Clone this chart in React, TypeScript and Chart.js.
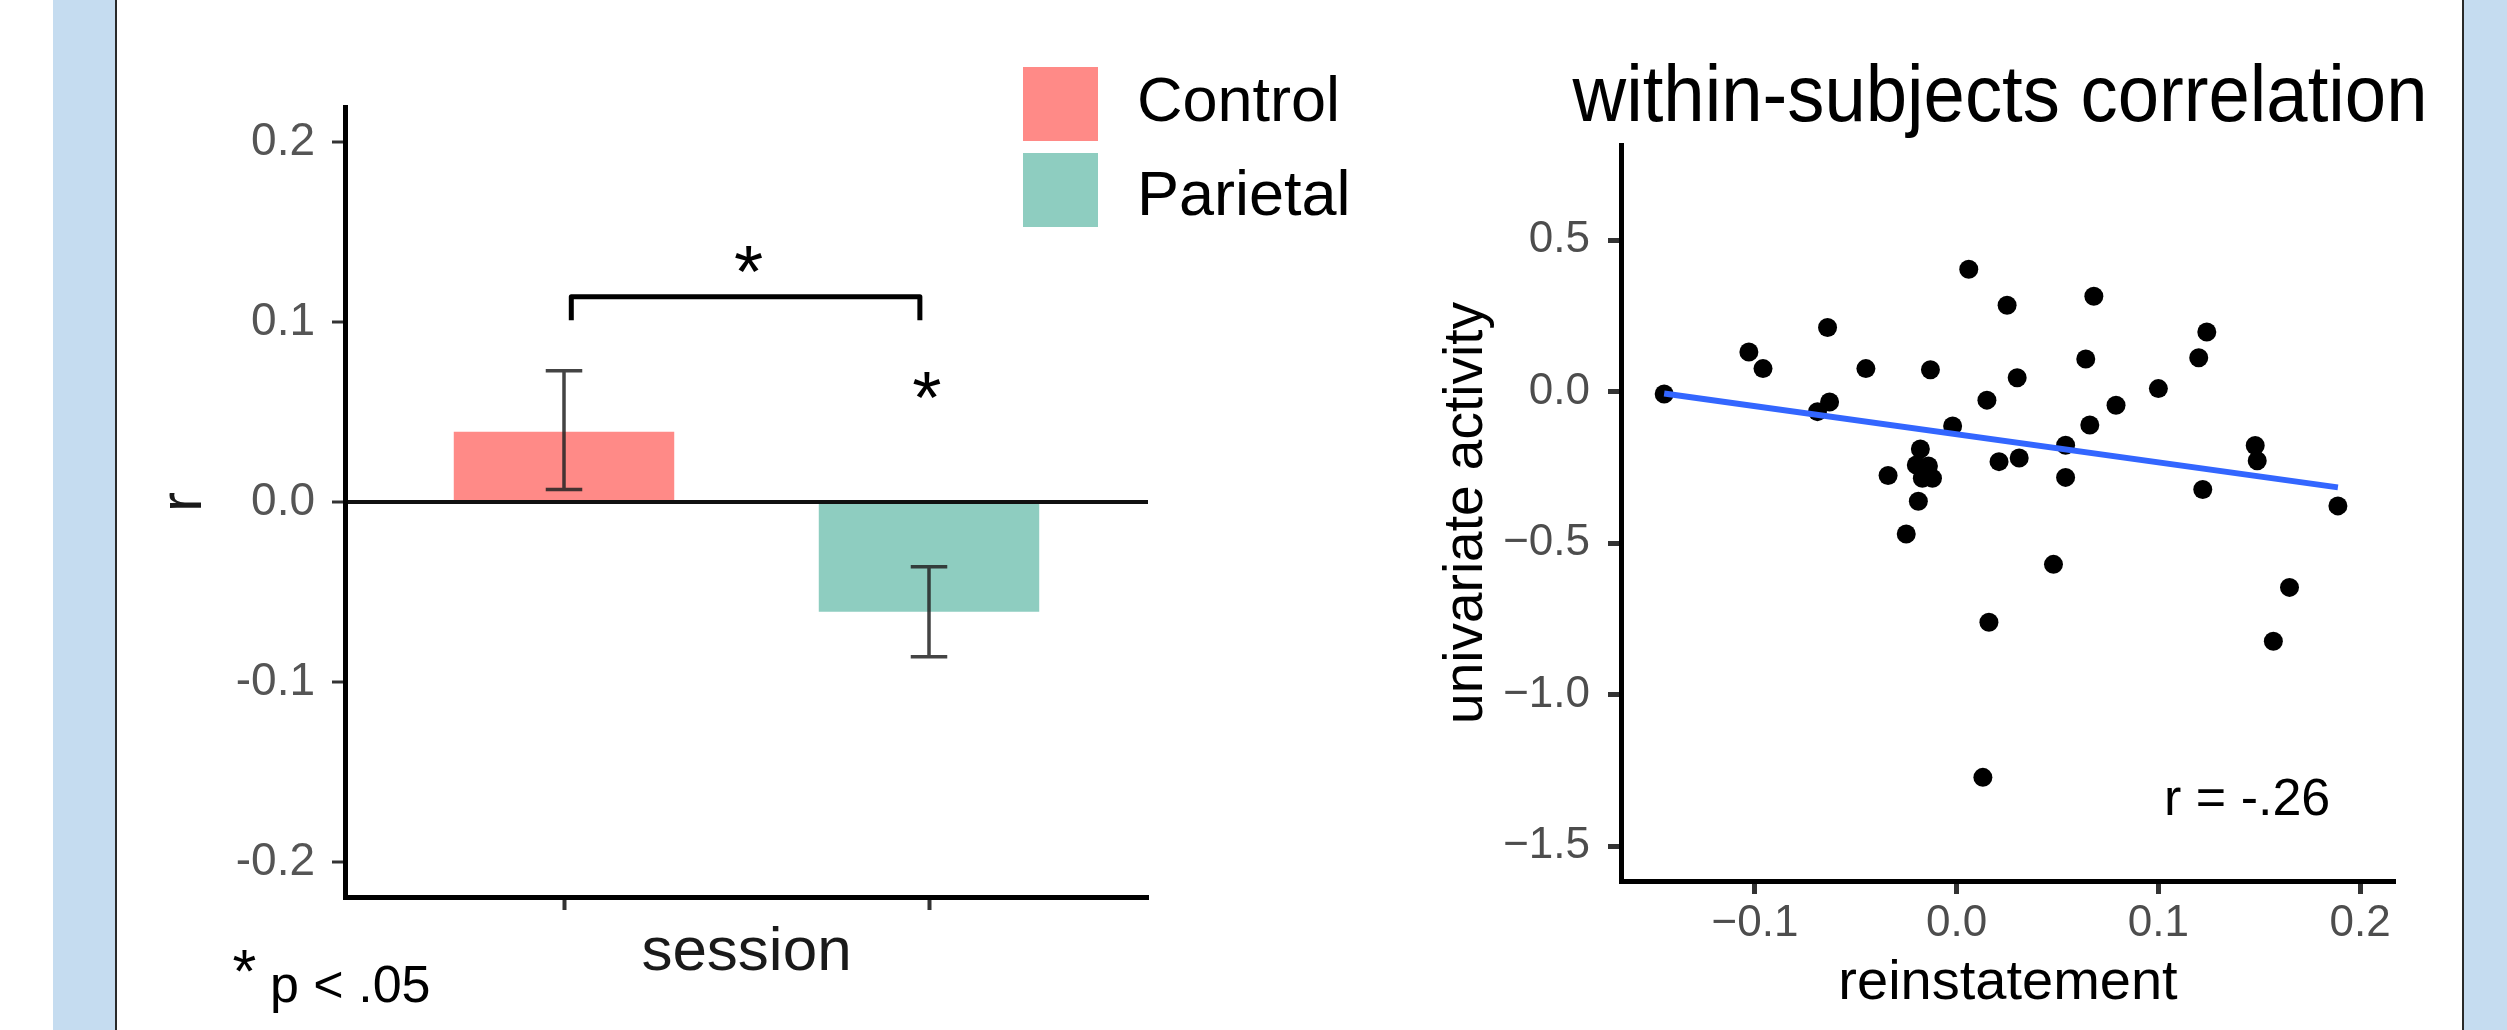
import React, { useEffect, useRef } from 'react';
import { Chart, registerables } from 'chart.js';

Chart.register(...registerables);

const FONT = "'Liberation Sans', Arial, Helvetica, sans-serif";

// ---------------- Bar chart (left) ----------------
const barCategories = ['Control', 'Parietal'];
const barPositions = [1, 2];
const barValues = [0.039, -0.061];
const barErrLower = [0.007, -0.086];
const barErrUpper = [0.073, -0.036];
const barYTicks = [-0.2, -0.1, 0, 0.1, 0.2];
const barYTickLabels = ['-0.2', '-0.1', '0.0', '0.1', '0.2'];
const bracketX = [1.02, 1.975];
const bracketTopY = 0.114;
const bracketLegY = 0.101;
const starX = [1.507, 1.995];
const starY = [0.135, 0.065];
const sigNote = 'p < .05';

// ---------------- Scatter chart (right) ----------------
const scatterTitle = 'within-subjects correlation';
const reinstatement = [
  -0.145, -0.103, -0.096, -0.064, -0.063, -0.069, -0.045, -0.013, 0.006, 0.025,
  0.030, 0.015, -0.002, -0.018, -0.020, -0.014, -0.017, -0.012, -0.034, -0.019,
  -0.025, 0.021, 0.031, 0.068, 0.064, 0.079, 0.066, 0.100, 0.124, 0.120,
  0.054, 0.054, 0.122, 0.148, 0.149, 0.189, 0.048, 0.016, 0.013, 0.165,
  0.157,
];
const univariateActivity = [
  -0.008, 0.131, 0.076, 0.212, -0.034, -0.066, 0.076, 0.072, 0.404, 0.285,
  0.046, -0.028, -0.113, -0.189, -0.242, -0.245, -0.286, -0.286, -0.277, -0.362,
  -0.470, -0.231, -0.219, 0.315, 0.108, -0.045, -0.110, 0.010, 0.197, 0.112,
  -0.177, -0.283, -0.323, -0.178, -0.228, -0.377, -0.570, -0.761, -1.273, -0.646,
  -0.824,
];
const fitX = [-0.145, 0.189];
const fitY = [-0.006, -0.316];
const scatterXTicks = [-0.1, 0, 0.1, 0.2];
const scatterXTickLabels = ['\u22120.1', '0.0', '0.1', '0.2'];
const scatterYTicks = [-1.5, -1, -0.5, 0, 0.5];
const scatterYTickLabels = ['\u22121.5', '\u22121.0', '\u22120.5', '0.0', '0.5'];
const corrLabel = 'r = -.26';
const corrLabelX = 0.144;
const corrLabelY = -1.397;

// styles
const CONTROL_COLOR = '#FF8A87';
const PARIETAL_COLOR = '#8ECDC0';
const barColors = [CONTROL_COLOR, PARIETAL_COLOR];
const BLUE_BAND = '#C5DCF0';

function drawGlyphCentered(ctx: any, ch: string, cx: number, cy: number, h: number, color: string) {
  ctx.save();
  ctx.font = `100px ${FONT}`;
  const m = ctx.measureText(ch);
  const mh = m.actualBoundingBoxAscent + m.actualBoundingBoxDescent;
  const size = (100 * h) / mh;
  ctx.font = `${size}px ${FONT}`;
  const m2 = ctx.measureText(ch);
  ctx.textAlign = 'left';
  ctx.textBaseline = 'alphabetic';
  ctx.fillStyle = color;
  const x = cx - (m2.actualBoundingBoxRight - m2.actualBoundingBoxLeft) / 2;
  const y = cy + (m2.actualBoundingBoxAscent - m2.actualBoundingBoxDescent) / 2;
  ctx.fillText(ch, x, y);
  ctx.restore();
}

const barAnnotations = {
  id: 'barAnnotations',
  afterDatasetsDraw(chart: any) {
    const { ctx, scales } = chart;
    const xs = scales.x;
    const ys = scales.y;
    ctx.save();
    ctx.strokeStyle = 'rgba(35,35,35,0.85)';
    ctx.lineWidth = 3.5;
    barPositions.forEach((p, i) => {
      const cx = xs.getPixelForValue(p);
      const half = xs.getPixelForValue(p + 0.05) - cx;
      const yl = ys.getPixelForValue(barErrLower[i]);
      const yu = ys.getPixelForValue(barErrUpper[i]);
      ctx.beginPath();
      ctx.moveTo(cx, yl);
      ctx.lineTo(cx, yu);
      ctx.moveTo(cx - half, yl);
      ctx.lineTo(cx + half, yl);
      ctx.moveTo(cx - half, yu);
      ctx.lineTo(cx + half, yu);
      ctx.stroke();
    });
    ctx.restore();
  },
  afterDraw(chart: any) {
    const { ctx, scales } = chart;
    const xs = scales.x;
    const ys = scales.y;
    // significance bracket
    ctx.save();
    ctx.strokeStyle = '#000';
    ctx.lineWidth = 5;
    ctx.lineJoin = 'round';
    const x1 = xs.getPixelForValue(bracketX[0]);
    const x2 = xs.getPixelForValue(bracketX[1]);
    const yt = ys.getPixelForValue(bracketTopY);
    const yl = ys.getPixelForValue(bracketLegY);
    ctx.beginPath();
    ctx.moveTo(x1, yl);
    ctx.lineTo(x1, yt);
    ctx.lineTo(x2, yt);
    ctx.lineTo(x2, yl);
    ctx.stroke();
    ctx.restore();
    // stars
    starX.forEach((sx, i) => {
      drawGlyphCentered(ctx, '*', xs.getPixelForValue(sx), ys.getPixelForValue(starY[i]), 27, '#000');
    });
    // legend
    ctx.save();
    const legendY = [67, 153];
    barCategories.forEach((c, i) => {
      ctx.fillStyle = barColors[i];
      ctx.fillRect(906, legendY[i], 75, 74);
      ctx.fillStyle = '#000';
      ctx.font = `63px ${FONT}`;
      ctx.textAlign = 'left';
      ctx.textBaseline = 'alphabetic';
      ctx.fillText(c, 1020, legendY[i] + 54 + (i === 0 ? 0 : 8));
    });
    ctx.restore();
    // p-value note
    drawGlyphCentered(ctx, '*', 127, 961, 22, '#000');
    ctx.save();
    ctx.fillStyle = '#000';
    ctx.font = `52px ${FONT}`;
    ctx.textAlign = 'left';
    ctx.textBaseline = 'alphabetic';
    ctx.fillText(sigNote, 153, 1002);
    ctx.restore();
  },
};

const scatterAnnotations = {
  id: 'scatterAnnotations',
  afterDatasetsDraw(chart: any) {
    const { ctx, scales } = chart;
    ctx.save();
    ctx.fillStyle = '#000';
    ctx.font = `52px ${FONT}`;
    ctx.textAlign = 'center';
    ctx.textBaseline = 'alphabetic';
    ctx.fillText(corrLabel, scales.x.getPixelForValue(corrLabelX), scales.y.getPixelForValue(corrLabelY));
    ctx.restore();
  },
  afterDraw(chart: any) {
    const { ctx } = chart;
    ctx.save();
    ctx.fillStyle = '#000';
    ctx.font = `79px ${FONT}`;
    ctx.textAlign = 'center';
    ctx.textBaseline = 'alphabetic';
    ctx.fillText(scatterTitle, 620, 121, 855);
    ctx.restore();
  },
};

export default function App() {
  const barRef = useRef<HTMLCanvasElement>(null);
  const scatRef = useRef<HTMLCanvasElement>(null);

  useEffect(() => {
    const barChart = new Chart(barRef.current as HTMLCanvasElement, {
      type: 'bar',
      data: {
        datasets: [
          {
            label: 'r',
            data: barPositions.map((p, i) => ({ x: p, y: barValues[i] })),
            backgroundColor: barColors,
            borderWidth: 0,
            barPercentage: 0.604,
            categoryPercentage: 1,
          } as any,
        ],
      },
      options: {
        responsive: false,
        animation: false,
        devicePixelRatio: 1,
        layout: { padding: { left: 0, top: 107, right: 229, bottom: 0 } },
        plugins: { legend: { display: false }, tooltip: { enabled: false }, title: { display: false } },
        scales: {
          x: {
            type: 'linear',
            min: 0.4,
            max: 2.6,
            offset: false,
            afterBuildTicks: (s: any) => {
              s.ticks = barPositions.map((v) => ({ value: v }));
            },
            afterFit: (s: any) => {
              s.height = 133;
            },
            grid: {
              display: true,
              offset: false,
              drawOnChartArea: false,
              drawTicks: true,
              tickLength: 13,
              tickWidth: 4,
              tickColor: '#333',
            },
            border: { display: true, color: '#000', width: 5 },
            ticks: { callback: () => '', padding: 0 },
            title: {
              display: true,
              text: 'session',
              color: '#1a1a1a',
              font: { family: FONT, size: 62 },
              padding: { top: 0, bottom: 40 },
            },
          } as any,
          y: {
            type: 'linear',
            min: -0.2195,
            max: 0.2195,
            afterBuildTicks: (s: any) => {
              s.ticks = barYTicks.map((v) => ({ value: v }));
            },
            afterFit: (s: any) => {
              s.width = 228;
            },
            grid: {
              display: true,
              drawOnChartArea: true,
              drawTicks: true,
              tickLength: 13,
              tickWidth: 3,
              tickColor: '#333',
              color: (c: any) => (c.tick && c.tick.value === 0 ? '#111' : 'rgba(0,0,0,0)'),
              lineWidth: 4,
            },
            border: { display: true, color: '#000', width: 5 },
            ticks: {
              callback: (_v: any, i: number) => barYTickLabels[i],
              color: '#555555',
              font: { family: FONT, size: 46 },
              padding: 17,
            },
            title: {
              display: true,
              text: 'r',
              color: '#1a1a1a',
              font: { family: FONT, size: 60 },
              padding: { top: 31, bottom: 0 },
            },
          } as any,
        },
      },
      plugins: [barAnnotations],
    } as any);

    const scatterChart = new Chart(scatRef.current as HTMLCanvasElement, {
      type: 'scatter',
      data: {
        datasets: [
          {
            type: 'line',
            label: 'fit',
            data: fitX.map((x, i) => ({ x, y: fitY[i] })),
            borderColor: '#3366FF',
            borderWidth: 6,
            pointRadius: 0,
            fill: false,
            tension: 0,
            order: 0,
          },
          {
            type: 'scatter',
            label: 'subjects',
            data: reinstatement.map((x, i) => ({ x, y: univariateActivity[i] })),
            backgroundColor: '#000',
            borderColor: '#000',
            borderWidth: 0,
            pointRadius: 9.5,
            order: 1,
          },
        ] as any,
      },
      options: {
        responsive: false,
        animation: false,
        devicePixelRatio: 1,
        layout: { padding: { left: 0, top: 145, right: 67, bottom: 0 } },
        plugins: {
          legend: { display: false },
          tooltip: { enabled: false },
          title: { display: false },
        },
        scales: {
          x: {
            type: 'linear',
            min: -0.1664,
            max: 0.2173,
            afterBuildTicks: (s: any) => {
              s.ticks = scatterXTicks.map((v) => ({ value: v }));
            },
            afterFit: (s: any) => {
              s.height = 149;
            },
            grid: {
              display: true,
              drawOnChartArea: false,
              drawTicks: true,
              tickLength: 13,
              tickWidth: 5,
              tickColor: '#333',
            },
            border: { display: true, color: '#000', width: 5 },
            ticks: {
              callback: (_v: any, i: number) => scatterXTickLabels[i],
              color: '#4D4D4D',
              font: { family: FONT, size: 44 },
              padding: 3,
              maxRotation: 0,
            },
            title: {
              display: true,
              text: 'reinstatement',
              color: '#000',
              font: { family: FONT, size: 56 },
              padding: { top: 0, bottom: 13 },
            },
          } as any,
          y: {
            type: 'linear',
            min: -1.615,
            max: 0.814,
            afterBuildTicks: (s: any) => {
              s.ticks = scatterYTicks.map((v) => ({ value: v }));
            },
            afterFit: (s: any) => {
              s.width = 241;
            },
            grid: {
              display: true,
              drawOnChartArea: false,
              drawTicks: true,
              tickLength: 13,
              tickWidth: 5,
              tickColor: '#333',
            },
            border: { display: true, color: '#000', width: 5 },
            ticks: {
              callback: (_v: any, i: number) => scatterYTickLabels[i],
              color: '#4D4D4D',
              font: { family: FONT, size: 44 },
              padding: 18,
            },
            title: {
              display: true,
              text: 'univariate activity',
              color: '#000',
              font: { family: FONT, size: 55 },
              padding: { top: 54, bottom: 0 },
            },
          } as any,
        },
      },
      plugins: [scatterAnnotations],
    } as any);

    return () => {
      barChart.destroy();
      scatterChart.destroy();
    };
  }, []);

  return (
    <div
      style={{
        position: 'fixed',
        left: 0,
        top: 0,
        width: 2507,
        height: 1030,
        background: '#ffffff',
        overflow: 'hidden',
      }}
    >
      <div style={{ position: 'absolute', left: 53, top: 0, width: 62, height: 1030, background: BLUE_BAND }} />
      <div style={{ position: 'absolute', left: 115, top: 0, width: 2, height: 1030, background: '#2a2a2a' }} />
      <div style={{ position: 'absolute', left: 2462, top: 0, width: 2, height: 1030, background: '#2a2a2a' }} />
      <div style={{ position: 'absolute', left: 2464, top: 0, width: 43, height: 1030, background: BLUE_BAND }} />
      <canvas
        ref={barRef}
        width={1260}
        height={1030}
        style={{ position: 'absolute', left: 117, top: 0, width: 1260, height: 1030 }}
      />
      <canvas
        ref={scatRef}
        width={1082}
        height={1030}
        style={{ position: 'absolute', left: 1380, top: 0, width: 1082, height: 1030 }}
      />
    </div>
  );
}
